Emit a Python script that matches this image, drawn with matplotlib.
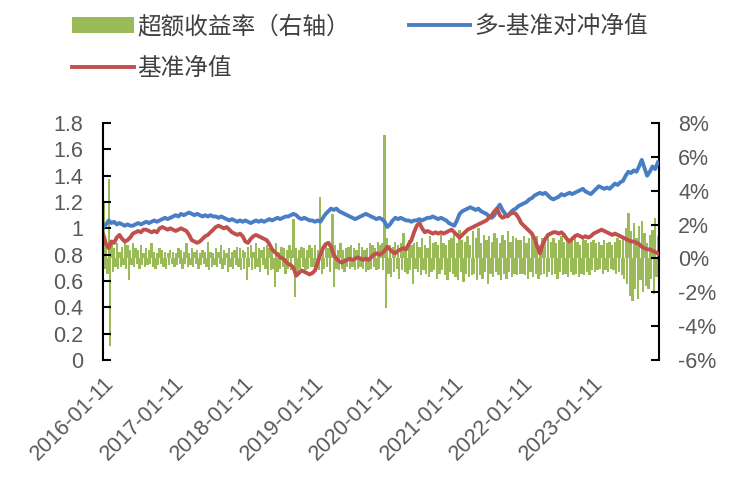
import numpy as np
import pandas as pd
import matplotlib
matplotlib.use("Agg")
import matplotlib.pyplot as plt
from matplotlib.ticker import FuncFormatter

plt.rcParams['font.family'] = ['Liberation Sans', 'Noto Sans CJK SC', 'DejaVu Sans']

# 多-基准对冲净值 (biweekly, left axis)
blue_2016 = [1.01, 1.03, 1.06, 1.04, 1.05, 1.03, 1.04, 1.03, 1.02, 1.03, 1.02, 1.02, 1.03, 1.04, 1.03, 1.04, 1.05, 1.04, 1.05, 1.06, 1.05, 1.06, 1.07, 1.08, 1.07, 1.08]
blue_2017 = [1.09, 1.10, 1.09, 1.11, 1.10, 1.11, 1.12, 1.11, 1.10, 1.11, 1.10, 1.09, 1.10, 1.09, 1.10, 1.09, 1.09, 1.08, 1.09, 1.08, 1.07, 1.06, 1.07, 1.06, 1.05, 1.06]
blue_2018 = [1.05, 1.06, 1.05, 1.04, 1.05, 1.06, 1.05, 1.06, 1.05, 1.06, 1.07, 1.06, 1.07, 1.08, 1.07, 1.08, 1.09, 1.09, 1.10, 1.11, 1.10, 1.08, 1.07, 1.08, 1.07, 1.06]
blue_2019 = [1.06, 1.05, 1.06, 1.05, 1.08, 1.11, 1.13, 1.15, 1.14, 1.15, 1.13, 1.12, 1.11, 1.10, 1.09, 1.08, 1.07, 1.08, 1.09, 1.10, 1.11, 1.10, 1.09, 1.08, 1.07, 1.08]
blue_2020 = [1.07, 1.05, 1.01, 1.03, 1.06, 1.08, 1.07, 1.08, 1.07, 1.06, 1.06, 1.05, 1.06, 1.06, 1.07, 1.06, 1.07, 1.08, 1.08, 1.09, 1.08, 1.07, 1.08, 1.07, 1.06, 1.04]
blue_2021 = [1.03, 1.02, 1.06, 1.11, 1.13, 1.14, 1.15, 1.16, 1.15, 1.14, 1.15, 1.13, 1.12, 1.11, 1.09, 1.08, 1.10, 1.15, 1.18, 1.14, 1.11, 1.09, 1.12, 1.14, 1.15, 1.17]
blue_2022 = [1.18, 1.19, 1.20, 1.22, 1.23, 1.25, 1.26, 1.27, 1.26, 1.27, 1.25, 1.23, 1.22, 1.23, 1.24, 1.26, 1.25, 1.26, 1.27, 1.26, 1.27, 1.28, 1.29, 1.30, 1.28, 1.27]
blue_2023 = [1.26, 1.28, 1.30, 1.32, 1.31, 1.30, 1.31, 1.30, 1.32, 1.34, 1.33, 1.35, 1.36, 1.40, 1.43, 1.42, 1.44, 1.43, 1.47, 1.52, 1.46, 1.40, 1.43, 1.47, 1.45, 1.50]

# 基准净值 (biweekly, left axis)
red_2016 = [0.95, 0.88, 0.85, 0.90, 0.89, 0.93, 0.95, 0.92, 0.90, 0.91, 0.93, 0.96, 0.97, 0.98, 0.97, 0.99, 0.99, 0.98, 0.97, 0.98, 0.97, 1.00, 1.01, 1.00, 0.99, 1.00]
red_2017 = [0.99, 0.98, 0.99, 1.00, 0.99, 0.98, 0.95, 0.91, 0.90, 0.89, 0.90, 0.92, 0.94, 0.95, 0.97, 0.99, 1.01, 1.02, 1.01, 1.00, 1.01, 0.99, 0.97, 0.96, 0.95, 0.96]
red_2018 = [0.94, 0.90, 0.89, 0.92, 0.94, 0.95, 0.94, 0.93, 0.92, 0.91, 0.88, 0.84, 0.82, 0.80, 0.78, 0.77, 0.75, 0.73, 0.72, 0.70, 0.64, 0.66, 0.68, 0.67, 0.66, 0.65]
red_2019 = [0.66, 0.68, 0.74, 0.80, 0.85, 0.88, 0.89, 0.86, 0.80, 0.77, 0.75, 0.74, 0.75, 0.76, 0.77, 0.76, 0.77, 0.78, 0.77, 0.76, 0.77, 0.76, 0.78, 0.80, 0.81, 0.80]
red_2020 = [0.81, 0.83, 0.86, 0.84, 0.82, 0.81, 0.83, 0.84, 0.85, 0.84, 0.88, 0.91, 0.97, 1.02, 1.04, 1.00, 0.97, 0.98, 0.97, 0.96, 0.97, 0.96, 0.97, 0.96, 0.97, 0.98]
red_2021 = [0.99, 0.97, 0.95, 0.93, 0.95, 0.97, 0.99, 1.00, 1.01, 1.02, 1.03, 1.04, 1.05, 1.06, 1.08, 1.10, 1.13, 1.15, 1.10, 1.08, 1.09, 1.10, 1.11, 1.12, 1.11, 1.08]
red_2022 = [1.04, 1.02, 1.00, 0.98, 0.96, 0.92, 0.86, 0.81, 0.88, 0.92, 0.95, 0.96, 0.97, 0.97, 0.96, 0.97, 0.95, 0.92, 0.90, 0.92, 0.94, 0.95, 0.94, 0.93, 0.94, 0.93]
red_2023 = [0.94, 0.96, 0.97, 0.98, 0.99, 0.98, 0.97, 0.96, 0.95, 0.96, 0.95, 0.94, 0.93, 0.92, 0.91, 0.90, 0.90, 0.89, 0.88, 0.86, 0.85, 0.84, 0.84, 0.83, 0.82, 0.81]

# 超额收益率 (weekly, %, right axis)
ex_2016 = [3.4, -0.6, 0.8, -0.9, 4.7, -5.2, 1.1, -0.8, 0.6, -0.5, 0.9, -0.6, 0.4, -0.5, 0.7, -0.4, 1.0, -0.6, 0.8, -1.3, 0.5, -0.4, 0.9, -0.5, 0.6, -0.3, 0.5, -0.6, 0.8, -0.4, 0.3, -0.5, 0.6, -0.4, 0.5, -0.3, 0.9, -0.5, 0.4, -0.6, 0.3, -0.4, 0.6, -0.3, 0.5, -0.5, 0.4, -0.6, 0.3, -0.4, 0.5, -0.3]
ex_2017 = [0.4, -0.5, 0.3, -0.4, 0.6, -0.3, 0.5, -0.6, 0.4, -0.3, 0.9, -0.5, 0.3, -0.4, 0.6, -0.5, 0.4, -0.3, 0.5, -0.6, 0.3, -0.4, 0.5, -0.3, 0.4, -0.5, 1.0, -0.7, 0.4, -0.5, 0.3, -0.4, 0.6, -0.5, 0.4, -0.3, 0.8, -0.6, 0.5, -0.4, 0.3, -0.8, 0.6, -0.5, 0.4, -0.6, 0.5, -0.4, 0.7, -0.5, 0.6, -0.7]
ex_2018 = [0.5, -0.6, 0.4, -1.3, 0.7, -0.5, 0.8, -0.7, 0.4, -0.6, 0.9, -0.5, 0.6, -0.8, 0.5, -0.4, 0.7, -0.6, 0.8, -1.0, 0.6, -0.7, 0.5, -0.6, -1.7, 0.9, -0.8, 0.4, -0.6, 0.7, -0.5, 0.6, -0.9, 0.5, -0.6, 0.8, -0.7, 0.5, 2.3, -2.3, 0.6, -0.8, 0.5, -0.6, 0.7, -0.5, 0.6, -0.7, 0.5, -0.6, 0.8, -0.5]
ex_2019 = [0.6, -0.5, 0.8, -0.6, 0.5, -0.7, 3.6, -0.9, 0.7, -0.6, 0.9, -0.5, 0.6, -0.8, 0.7, 2.6, -1.7, 0.8, -0.6, 0.5, -0.7, 0.9, -0.6, 0.5, -0.8, 0.6, -0.5, 0.7, -0.6, 0.8, -0.5, 0.6, -0.7, 0.5, -0.6, 0.9, -0.5, 0.7, -0.6, 0.5, -0.8, 0.6, -0.7, 0.9, -0.6, 0.8, -0.5, 0.6, -0.7, 1.0, -0.6, 0.8]
ex_2020 = [0.9, -0.7, 7.3, -2.9, 1.2, -0.9, 0.8, -1.1, 0.7, -0.8, 1.0, -0.6, 0.8, -1.2, 0.9, -0.7, 1.5, -0.8, 0.6, -0.9, 1.1, -0.7, 0.8, -1.5, 0.9, -0.6, 1.0, -0.8, 0.7, -1.0, 1.2, -0.7, 0.8, -0.9, 0.6, -1.1, 1.3, -0.8, 0.9, -0.7, 1.0, -1.2, 0.8, -0.9, 1.4, -0.7, 0.9, -1.0, 0.8, -1.3, 1.1, -0.8]
ex_2021 = [1.2, -0.9, 1.5, -1.1, 0.9, -1.3, 1.7, -0.8, 1.1, -1.4, 1.0, -0.9, 1.3, -1.1, 0.8, -1.0, 1.6, -0.9, 1.2, -1.3, 1.8, -1.0, 0.9, -1.2, 1.4, -0.8, 1.1, -1.5, 1.3, -0.9, 1.0, -1.1, 1.5, -0.8, 1.2, -1.0, 0.9, -1.3, 1.4, -0.9, 1.1, -1.2, 1.6, -0.8, 1.0, -1.1, 1.3, -0.9, 1.2, -1.0, 1.1, -0.9]
ex_2022 = [1.1, -0.9, 1.3, -1.0, 0.9, -1.2, 1.2, -0.8, 1.4, -1.1, 1.0, -0.9, 1.3, -1.2, 0.8, -1.0, 1.2, -0.9, 1.1, -1.1, 1.4, -0.8, 1.0, -1.0, 1.2, -0.9, 0.9, -1.2, 1.1, -0.8, 1.3, -1.0, 1.0, -0.9, 1.2, -1.1, 0.9, -0.8, 1.1, -1.0, 1.3, -0.9, 1.0, -1.1, 0.8, -0.9, 1.2, -1.0, 1.1, -0.8, 0.9, -1.0]
ex_2023 = [1.0, -0.7, 1.1, -0.8, 0.9, -0.7, 1.0, -0.6, 0.8, -0.9, 1.1, -0.7, 0.9, -0.8, 1.0, -0.6, 0.8, -0.7, 1.0, -0.9, 1.2, -0.8, 1.1, -1.0, 1.3, -1.2, 1.8, -1.5, 2.7, -2.2, 1.6, -2.5, 2.1, -1.8, 1.2, -2.4, 1.9, -1.3, 2.2, -2.0, 1.5, -1.6, 0.9, -1.8, 1.4, -1.2, 1.7, -2.1, 2.4, -1.1, 1.3]

tick_labels = ['2016-01-11', '2017-01-11', '2018-01-11', '2019-01-11',
               '2020-01-11', '2021-01-11', '2022-01-11', '2023-01-11']

hedge = blue_2016 + blue_2017 + blue_2018 + blue_2019 + blue_2020 + blue_2021 + blue_2022 + blue_2023
bench = red_2016 + red_2017 + red_2018 + red_2019 + red_2020 + red_2021 + red_2022 + red_2023
excess = ex_2016 + ex_2017 + ex_2018 + ex_2019 + ex_2020 + ex_2021 + ex_2022 + ex_2023

line_dates = pd.date_range('2016-01-11', periods=len(hedge), freq='14D')
bar_dates = pd.date_range('2016-01-11', periods=len(excess), freq='7D')

GREEN = '#9BBB59'
BLUE = '#4A7EC4'
RED = '#C0504D'
GRAY = '#595959'

fig = plt.figure(figsize=(7.32, 4.83), dpi=100)
ax = fig.add_axes([0.1407, 0.2547, 0.759, 0.4906])
ax2 = ax.twinx()

# wide overlapping bars so the alternating weekly values read as a solid band
bars = ax2.bar(bar_dates, excess, width=12, color=GREEN, linewidth=0)
l1, = ax.plot(line_dates, hedge, color=BLUE, lw=2.8)
l2, = ax.plot(line_dates, bench, color=RED, lw=2.8)

ax.set_zorder(ax2.get_zorder() + 1)
ax.patch.set_visible(False)

ax.set_ylim(0, 1.8)
ax.set_yticks(np.arange(0, 1.81, 0.2))
ax.yaxis.set_major_formatter(FuncFormatter(lambda v, p: f'{v:g}'))
ax2.set_ylim(-6, 8)
ax2.set_yticks(np.arange(-6, 8.1, 2))
ax2.yaxis.set_major_formatter(FuncFormatter(lambda v, p: f'{v:.0f}%'))

ax.set_xlim(pd.Timestamp('2016-01-09'), pd.Timestamp('2023-12-22'))
ax.set_xticks(pd.to_datetime(tick_labels))
ax.set_xticklabels(tick_labels, rotation=45, ha='right', rotation_mode='anchor')

for a in (ax, ax2):
    for s in ('top', 'bottom'):
        a.spines[s].set_visible(False)
    a.spines['left'].set_visible(a is ax)
    a.spines['right'].set_visible(a is ax2)
    a.tick_params(axis='y', direction='in', length=6, width=1.5, colors='black',
                  labelcolor=GRAY, labelsize=15.5, pad=14)
ax.spines['left'].set_linewidth(1.5)
ax2.spines['right'].set_linewidth(1.5)
ax.tick_params(axis='x', length=0, labelcolor=GRAY, labelsize=15.5, pad=9)

fig.legend([bars, l2, l1], ['超额收益率（右轴）', '基准净值', '多-基准对冲净值'],
           loc='upper left', bbox_to_anchor=(0.07, 1.012), ncol=2, frameon=False,
           prop={'family': ['Noto Sans CJK SC', 'DejaVu Sans'], 'size': 17},
           labelcolor='#404040', handlelength=2.6, handletextpad=0.15,
           columnspacing=2.5, labelspacing=0.8)

fig.savefig('out.png', dpi=100)
